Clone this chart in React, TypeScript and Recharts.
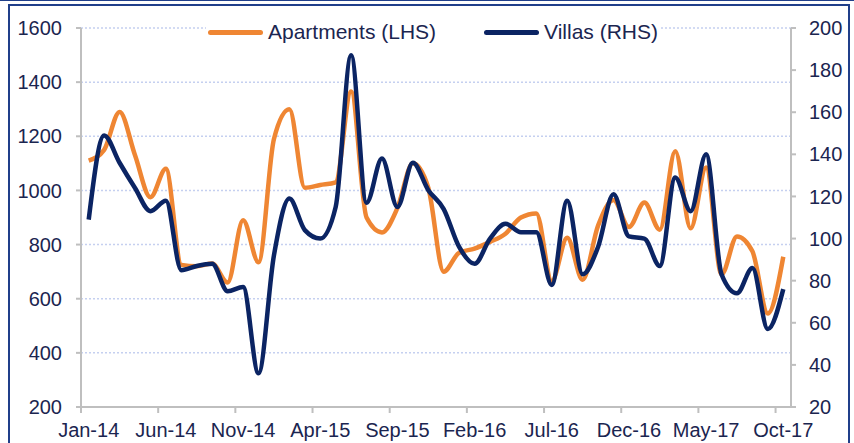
import { LineChart, Line, XAxis, YAxis, CartesianGrid, Legend } from 'recharts';

// drop the default body margin so the chart sits in the page corner
document.body.style.margin = '0';

const months = [
  'Jan-14', 'Feb-14', 'Mar-14', 'Apr-14', 'May-14', 'Jun-14', 'Jul-14', 'Aug-14', 'Sep-14', 'Oct-14', 'Nov-14', 'Dec-14',
  'Jan-15', 'Feb-15', 'Mar-15', 'Apr-15', 'May-15', 'Jun-15', 'Jul-15', 'Aug-15', 'Sep-15', 'Oct-15', 'Nov-15', 'Dec-15',
  'Jan-16', 'Feb-16', 'Mar-16', 'Apr-16', 'May-16', 'Jun-16', 'Jul-16', 'Aug-16', 'Sep-16', 'Oct-16', 'Nov-16', 'Dec-16',
  'Jan-17', 'Feb-17', 'Mar-17', 'Apr-17', 'May-17', 'Jun-17', 'Jul-17', 'Aug-17', 'Sep-17', 'Oct-17',
];

// Apartments, left axis
const apartments = [
  1110, 1150, 1290, 1130, 975, 1080, 725, 720, 730, 660, 890, 735,
  1190, 1300, 1010, 1020, 1030, 1365, 900, 845, 935, 1100, 1010, 700,
  770, 785, 810, 840, 900, 915, 665, 825, 670, 870, 965, 865,
  955, 855, 1145, 860, 1085, 690, 830, 775, 545, 755,
];

// Villas, right axis
const villas = [
  109, 149, 136, 124, 113, 118, 85, 87, 88, 75, 77, 36,
  92, 119, 104, 100, 115, 187, 117, 138, 115, 136, 123, 114,
  96, 88, 100, 107, 103, 103, 78, 118, 83, 96, 121, 101,
  100, 87, 129, 113, 140, 83, 74, 86, 57, 76,
];

const leftTicks = [200, 400, 600, 800, 1000, 1200, 1400, 1600];
const rightTicks = [20, 40, 60, 80, 100, 120, 140, 160, 180, 200];
const xTicks = [0, 5, 10, 15, 20, 25, 30, 35, 40, 45];

const data = months.map((m, i) => ({ i, month: m, apartments: apartments[i], villas: villas[i] }));

const ORANGE = '#ef8633';
const NAVY = '#0b2463';
const TEXT = '#1b2550';
const AXIS = '#bfbfbf';
const FRAME = '#203f8a';
const FONT = '"Liberation Sans", Arial, sans-serif';
const PLOT_W = 710;

const XTick = (props: any) => {
  const { x, y, payload } = props;
  const half = PLOT_W / months.length / 2;
  return (
    <g>
      <line x1={x - half} x2={x - half} y1={y} y2={y + 6} stroke={AXIS} strokeWidth={2} />
      <text x={x} y={y + 30} textAnchor="middle" fill={TEXT} fontSize={20} fontFamily={FONT}>
        {months[payload.value]}
      </text>
    </g>
  );
};

const LegendBox = () => (
  <div style={{ display: 'flex', alignItems: 'center', background: '#fff', height: 26, padding: '0 2px', fontFamily: FONT, fontSize: 21, color: TEXT, whiteSpace: 'nowrap' }}>
    <span style={{ display: 'inline-block', width: 55, height: 5, borderRadius: 3, background: ORANGE, marginRight: 5 }} />
    <span>Apartments (LHS)</span>
    <span style={{ display: 'inline-block', width: 55, height: 5, borderRadius: 3, background: NAVY, marginLeft: 48, marginRight: 5 }} />
    <span>Villas (RHS)</span>
  </div>
);

export default function App() {
  return (
    <div style={{ position: 'relative', width: 854, height: 443, overflow: 'hidden', background: '#fff', fontFamily: FONT }}>
      <div style={{ position: 'absolute', left: 0, top: 0 }}>
        <LineChart width={854} height={443} data={data} margin={{ top: 28, right: 8, bottom: 0, left: 0 }}>
          <CartesianGrid yAxisId="left" vertical={false} stroke="#c5d0f0" strokeDasharray="2 2" strokeWidth={1.5} />
          <XAxis
            dataKey="i"
            type="number"
            domain={[-0.5, 45.5]}
            ticks={xTicks}
            interval={0}
            height={36}
            tickSize={0}
            tickMargin={0}
            tickLine={false}
            axisLine={{ stroke: AXIS, strokeWidth: 2 }}
            tick={<XTick />}
          />
          <YAxis
            yAxisId="left"
            domain={[200, 1600]}
            ticks={leftTicks}
            width={81}
            tickSize={5}
            tickMargin={14}
            axisLine={{ stroke: AXIS, strokeWidth: 2 }}
            tickLine={{ stroke: AXIS, strokeWidth: 2 }}
            tick={{ fill: TEXT, fontSize: 20, fontFamily: FONT }}
          />
          <YAxis
            yAxisId="right"
            orientation="right"
            domain={[20, 200]}
            ticks={rightTicks}
            width={55}
            tickSize={5}
            tickMargin={13}
            axisLine={{ stroke: AXIS, strokeWidth: 2 }}
            tickLine={{ stroke: AXIS, strokeWidth: 2 }}
            tick={{ fill: TEXT, fontSize: 20, fontFamily: FONT, textAnchor: 'start' }}
          />
          <Legend
            verticalAlign="middle"
            align="center"
            content={<LegendBox />}
            wrapperStyle={{ top: 19, left: 206, width: 'auto', height: 26 }}
          />
          <Line yAxisId="left" type="monotone" dataKey="apartments" stroke={ORANGE} strokeWidth={4.5} dot={false} isAnimationActive={false} />
          <Line yAxisId="right" type="monotone" dataKey="villas" stroke={NAVY} strokeWidth={4.5} dot={false} isAnimationActive={false} />
        </LineChart>
      </div>
      <div style={{ position: 'absolute', zIndex: 5, left: 0, top: 0, width: 854, height: 1, background: FRAME }} />
      <div style={{ position: 'absolute', zIndex: 5, left: 8, top: 4, width: 838, height: 460, border: `2px solid ${FRAME}`, pointerEvents: 'none' }} />
    </div>
  );
}
